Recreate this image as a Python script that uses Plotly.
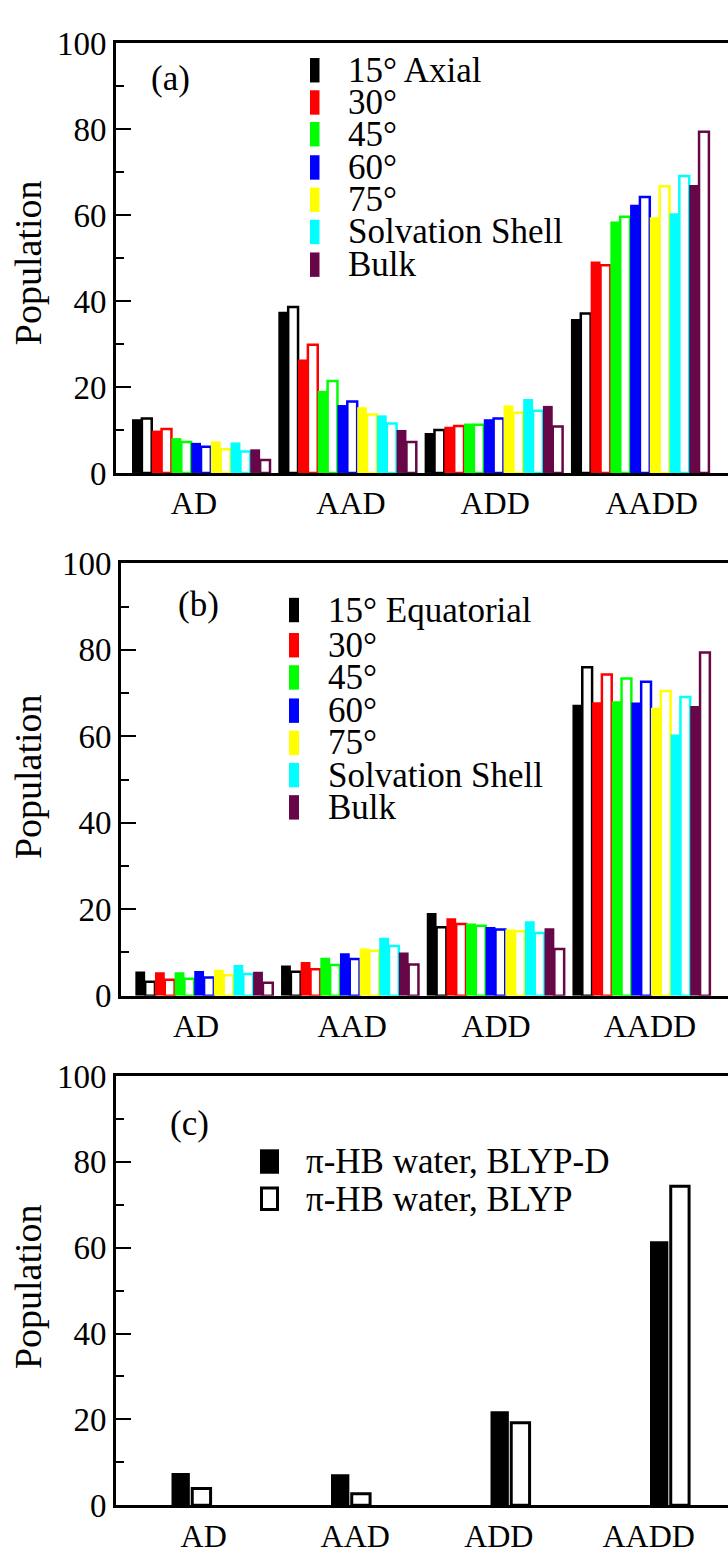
import plotly.graph_objects as go

# ---------------- data ----------------
categories = ["AD", "AAD", "ADD", "AADD"]

series_a = ["15° Axial", "30°", "45°", "60°", "75°", "Solvation Shell", "Bulk"]
series_b = ["15° Equatorial", "30°", "45°", "60°", "75°", "Solvation Shell", "Bulk"]
series_c = ["π-HB water, BLYP-D", "π-HB water, BLYP"]

# panel (a): filled bars (BLYP-D) and open bars (BLYP), one row per series
a_filled = [
    [12.5, 37.5, 9.3, 35.8],
    [9.85, 26.4, 10.75, 49.2],
    [8.1, 19.1, 11.5, 58.5],
    [7.0, 15.8, 12.5, 62.4],
    [7.35, 15.3, 15.7, 59.5],
    [7.1, 13.4, 17.2, 60.4],
    [5.5, 10.0, 15.6, 67.0],
]
a_open = [
    [12.65, 38.6, 10.0, 37.1],
    [10.2, 29.8, 10.9, 48.3],
    [7.2, 21.4, 11.2, 59.6],
    [6.1, 16.6, 12.65, 64.2],
    [5.5, 13.6, 14.0, 66.7],
    [5.0, 11.5, 14.5, 69.1],
    [3.0, 7.2, 10.8, 79.4],
]

# panel (b)
b_filled = [
    [5.6, 7.0, 19.1, 67.3],
    [5.4, 7.8, 17.9, 67.9],
    [5.4, 8.75, 16.7, 68.1],
    [5.7, 9.8, 15.9, 67.8],
    [6.0, 10.9, 15.3, 66.6],
    [7.1, 13.4, 17.2, 60.4],
    [5.5, 10.0, 15.6, 67.0],
]
b_open = [
    [3.2, 5.5, 15.8, 76.0],
    [3.7, 6.1, 16.6, 74.3],
    [3.9, 7.1, 16.2, 73.4],
    [4.2, 8.45, 15.3, 72.6],
    [4.7, 10.4, 14.9, 70.5],
    [5.0, 11.5, 14.5, 69.1],
    [3.0, 7.2, 10.8, 79.4],
]

# panel (c)
c_blypd = [7.5, 7.2, 21.9, 61.5]
c_blyp = [3.9, 2.7, 19.2, 74.3]

y_ticks = [0, 20, 40, 60, 80, 100]

# ---------------- style ----------------
colors = ["#000000", "#ff0000", "#00ff00", "#0000ff", "#ffff00", "#00ffff", "#670748"]
FONT = "Liberation Serif, Times New Roman, serif"
W, H = 728, 1564


def fx(p):
    return p / W


def fy(p):
    return 1 - p / H


idx = list(range(len(categories)))

fig = go.Figure()

panels = [
    dict(n=1, xdom=(116, 728), ydom=(26.7, 466.7), xr=(-0.581, 3.602),
         tickpos=[-0.048, 1.025, 2.01, 3.08]),
    dict(n=2, xdom=(121, 728), ydom=(559.3, 1001.7), xr=(-0.570, 3.596),
         tickpos=[-0.055, 1.016, 2.004, 3.06]),
    dict(n=3, xdom=(116, 728), ydom=(1084, 1523.3), xr=(-0.470, 3.367),
         tickpos=[0.08, 1.03, 1.93, 2.87]),
]

# grouped bars for (a) and (b)
for n, filled, opened in [(1, a_filled, a_open), (2, b_filled, b_open)]:
    for k in range(len(colors)):
        fig.add_trace(go.Bar(
            x=idx, y=filled[k], xaxis=f"x{n}", yaxis=f"y{n}",
            marker=dict(color=colors[k], line=dict(width=0)),
            showlegend=False, hoverinfo="y"))
        fig.add_trace(go.Bar(
            x=idx, y=opened[k], xaxis=f"x{n}", yaxis=f"y{n}",
            marker=dict(color="white", line=dict(color=colors[k], width=2.5)),
            showlegend=False, hoverinfo="y"))

# panel (c)
fig.add_trace(go.Bar(x=idx, y=c_blypd, xaxis="x3", yaxis="y3", width=0.115, offset=-0.122,
                     marker=dict(color="black", line=dict(width=0)), showlegend=False))
fig.add_trace(go.Bar(x=idx, y=c_blyp, xaxis="x3", yaxis="y3", width=0.115, offset=0.008,
                     marker=dict(color="white", line=dict(color="black", width=3)),
                     showlegend=False))

layout = dict(
    autosize=True, margin=dict(l=0, r=0, t=0, b=0),
    paper_bgcolor="white", plot_bgcolor="white",
    barmode="group", bargap=0.057, bargroupgap=0,
    font=dict(family=FONT, color="black"),
    showlegend=False,
)

yaxis_common = dict(range=[0, 100], tickvals=y_ticks, ticks="inside", ticklen=15, tickwidth=2,
                    tickcolor="black", showgrid=False, zeroline=False,
                    minor=dict(dtick=10, ticks="inside", ticklen=8, tickwidth=2, tickcolor="black"))

for p in panels:
    n = p["n"]
    layout[f"xaxis{n}"] = dict(
        domain=[fx(p["xdom"][0]), fx(p["xdom"][1])], anchor=f"y{n}", range=list(p["xr"]),
        showline=True, linewidth=3, linecolor="black", mirror=True,
        ticks="", tickvals=p["tickpos"], ticktext=categories,
        tickfont=dict(size=32, family=FONT, color="black"),
        showgrid=False, zeroline=False)
    layout[f"yaxis{n}"] = dict(
        domain=[fy(p["ydom"][1]), fy(p["ydom"][0])], anchor=f"x{n}",
        showline=True, linewidth=3, linecolor="black",
        tickfont=dict(size=33, family=FONT, color="black"), **yaxis_common)
    layout[f"yaxis{n + 3}"] = dict(
        overlaying=f"y{n}", side="right", anchor=f"x{n}",
        showline=False, showticklabels=False, **yaxis_common)

annotations = []
shapes = []

# panel labels
for txt, x, y in [("(a)", 170, 63), ("(b)", 199, 601), ("(c)", 189, 1133)]:
    annotations.append(dict(text=txt, x=fx(x), y=fy(y), xref="paper", yref="paper",
                            showarrow=False, xanchor="center", yanchor="middle",
                            font=dict(size=35, family=FONT, color="black")))

# y titles
for y in [252, 778, 1300]:
    annotations.append(dict(text="Population", x=fx(28), y=fy(y), xref="paper", yref="paper",
                            showarrow=False, textangle=-90, xanchor="center", yanchor="middle",
                            font=dict(size=38, family=FONT, color="black")))

# legends (a) and (b)
legend_rows_a = [54.5, 87.5, 120, 154, 187, 220, 253.5]
legend_rows_b = [607, 643, 676, 710, 743, 776, 809]
for names, rows, mx0, mx1, tx in [(series_a, legend_rows_a, 310, 319.5, 346),
                                  (series_b, legend_rows_b, 289, 299, 326)]:
    for k, (name, ry) in enumerate(zip(names, rows)):
        shapes.append(dict(type="rect", xref="paper", yref="paper",
                           x0=fx(mx0), x1=fx(mx1), y0=fy(ry + 12.5), y1=fy(ry - 12.5),
                           fillcolor=colors[k], line=dict(width=0)))
        annotations.append(dict(text=name, x=fx(tx), y=fy(ry), xref="paper", yref="paper",
                                showarrow=False, xanchor="left", yanchor="middle",
                                font=dict(size=35, family=FONT, color="black")))

# legend (c)
shapes.append(dict(type="rect", xref="paper", yref="paper", x0=fx(260), x1=fx(279),
                   y0=fy(1184), y1=fy(1159), fillcolor="black", line=dict(width=0)))
shapes.append(dict(type="rect", xref="paper", yref="paper", x0=fx(261.5), x1=fx(277.5),
                   y0=fy(1220.5), y1=fy(1198.5), fillcolor="white",
                   line=dict(color="black", width=3)))
for name, ry in zip(series_c, [1171, 1210]):
    annotations.append(dict(text=name, x=fx(304), y=fy(ry), xref="paper", yref="paper",
                            showarrow=False, xanchor="left", yanchor="middle",
                            font=dict(size=35, family=FONT, color="black")))

layout["annotations"] = annotations
layout["shapes"] = shapes
fig.update_layout(**layout)

fig.write_html(
    "out.html",
    config={"displayModeBar": False, "responsive": True},
    default_width="100vw",
    default_height="100vh",
    post_script="document.body.style.margin='0';document.body.style.overflow='hidden';"
                "window.dispatchEvent(new Event('resize'));",
)
